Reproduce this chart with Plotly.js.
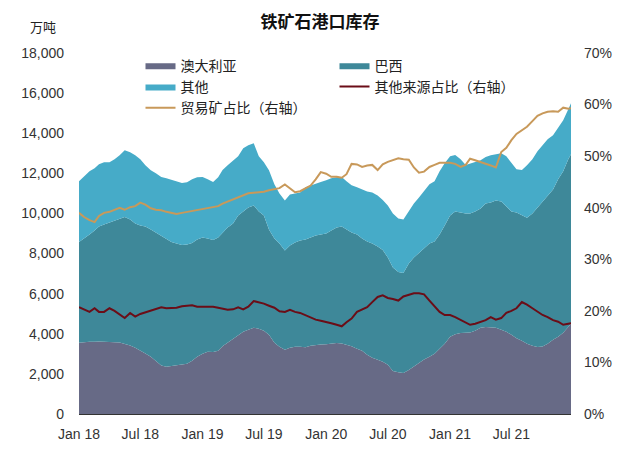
<!DOCTYPE html>
<html>
<head>
<meta charset="utf-8">
<script src="https://cdn.plot.ly/plotly-3.0.1.min.js"></script>
<style>html,body{margin:0;padding:0;background:#fff;}#chart{width:640px;height:459px;}</style>
</head>
<body>
<div id="chart"></div>
<script>
const dates = [
'2018-01-01','2018-01-16','2018-02-01','2018-02-16','2018-03-01','2018-03-16','2018-04-01','2018-04-16','2018-05-01','2018-05-16','2018-06-01','2018-06-16',
'2018-07-01','2018-07-16','2018-08-01','2018-08-16','2018-09-01','2018-09-16','2018-10-01','2018-10-16','2018-11-01','2018-11-16','2018-12-01','2018-12-16',
'2019-01-01','2019-01-16','2019-02-01','2019-02-16','2019-03-01','2019-03-16','2019-04-01','2019-04-16','2019-05-01','2019-05-16','2019-06-01','2019-06-16',
'2019-07-01','2019-07-16','2019-08-01','2019-08-16','2019-09-01','2019-09-16','2019-10-01','2019-10-16','2019-11-01','2019-11-16','2019-12-01','2019-12-16',
'2020-01-01','2020-01-16','2020-02-01','2020-02-16','2020-03-01','2020-03-16','2020-04-01','2020-04-16','2020-05-01','2020-05-16','2020-06-01','2020-06-16',
'2020-07-01','2020-07-16','2020-08-01','2020-08-16','2020-09-01','2020-09-16','2020-10-01','2020-10-16','2020-11-01','2020-11-16','2020-12-01','2020-12-16',
'2021-01-01','2021-01-16','2021-02-01','2021-02-16','2021-03-01','2021-03-16','2021-04-01','2021-04-16','2021-05-01','2021-05-16','2021-06-01','2021-06-16',
'2021-07-01','2021-07-16','2021-08-01','2021-08-16','2021-09-01','2021-09-16','2021-10-01','2021-10-16','2021-11-01','2021-11-16','2021-12-01','2021-12-16',
'2021-12-24'];

// 万吨
const australia = [
3550,3580,3600,3600,3620,3600,3600,3580,3560,3500,3420,3300,3180,3020,2850,2650,2420,2360,2400,2440,2460,2500,2650,2850,
3000,3100,3090,3150,3380,3550,3750,3900,4100,4200,4300,4250,4150,3950,3550,3350,3200,3300,3350,3350,3330,3400,3440,3460,
3480,3520,3540,3520,3450,3380,3250,3150,2950,2800,2700,2600,2450,2150,2080,2040,2200,2380,2580,2720,2850,3000,3250,3500,
3850,3980,4040,4050,4060,4150,4300,4340,4330,4300,4200,4100,3950,3780,3650,3500,3400,3340,3360,3500,3700,3850,4050,4350,
4500];
const brazil = [
5030,5170,5350,5550,5730,5850,5950,6070,6190,6320,6280,6200,6220,6330,6350,6400,6480,6390,6180,6060,5970,5950,5880,5850,
5800,5650,5590,5650,5670,5750,5750,6000,6000,6100,6100,5850,5750,5250,5200,5150,4950,5100,5200,5300,5370,5400,5460,5490,
5520,5630,5760,5830,5750,5670,5700,5600,5650,5700,5650,5580,5350,5150,5000,4990,5300,5420,5450,5530,5650,5600,5700,5900,
6050,6120,6010,5950,5940,5950,5950,6160,6220,6350,6400,6250,6150,6270,6250,6280,6600,6960,7190,7400,7500,7850,8050,8350,
8450];
const other = [
3020,3100,3150,3100,3100,3100,3000,3050,3150,3330,3350,3400,3300,3050,2950,2950,2920,3000,3090,3100,3090,3100,3170,3100,
3020,2950,2890,3000,3120,3100,3150,2950,3150,3100,3100,2750,2650,2950,2700,2500,2500,2550,2450,2400,2600,2600,2600,2620,
2650,2600,2500,2470,2400,2350,2350,2450,2500,2550,2550,2490,2600,2700,2670,2670,2650,2700,2770,2850,2950,3000,3150,3100,
2950,2810,2650,2420,2500,2460,2400,2310,2350,2300,2400,2500,2400,2150,2270,2620,2700,2800,2850,2800,2700,2550,2550,2500,
2550];
// % (右轴)
const otherShare = [
20.7,20.2,19.8,20.5,19.8,19.8,20.5,20.0,19.3,18.6,19.6,18.9,19.4,19.7,20.0,20.3,20.7,20.5,20.6,20.6,20.9,21.0,21.1,20.8,
20.8,20.9,20.8,20.6,20.4,20.2,20.3,20.7,20.3,20.8,21.9,21.7,21.4,21.0,20.6,19.9,19.8,20.2,19.8,19.6,19.2,18.8,18.3,18.1,
17.9,17.6,17.3,17.0,17.8,18.5,19.8,20.2,20.7,21.7,22.7,23.0,22.5,22.3,22.0,22.8,23.1,23.4,23.4,23.2,22.0,21.0,19.8,19.2,
19.2,18.8,18.2,17.8,17.3,17.5,17.8,18.2,18.8,18.3,18.6,19.6,20.0,20.5,21.7,21.2,20.5,19.8,19.2,18.8,18.2,17.9,17.3,17.5,
17.6];
const tradeShare = [
39.0,38.2,37.6,37.2,38.4,39.0,39.2,39.6,40.0,39.6,40.1,40.3,41.0,40.6,39.9,39.6,39.5,39.2,39.0,38.8,39.0,39.2,39.4,39.6,
39.7,40.0,40.1,40.3,40.8,41.2,41.5,42.0,42.3,42.8,42.9,43.0,43.1,43.4,43.6,43.8,44.5,43.8,43.0,43.2,43.8,44.3,45.5,46.9,
46.6,46.0,46.0,45.8,46.5,48.5,48.4,47.9,48.2,48.3,47.3,48.4,48.9,49.3,49.6,49.4,49.3,47.8,46.8,47.0,47.9,48.3,48.7,48.7,
48.7,48.5,47.9,48.3,49.5,49.2,48.9,48.6,48.2,47.8,50.8,51.6,53.1,54.3,55.0,55.7,56.8,57.8,58.3,58.6,58.7,58.6,59.4,59.2,
59.3];

const FONT = 'Liberation Sans, Arial, Noto Sans CJK SC, sans-serif';

const traces = [
  {x: dates, y: australia, name: '澳大利亚', type: 'scatter', mode: 'lines', stackgroup: 'inv',
   line: {width: 0}, fillcolor: '#676a86', hoverinfo: 'skip'},
  {x: dates, y: brazil, name: '巴西', type: 'scatter', mode: 'lines', stackgroup: 'inv',
   line: {width: 0}, fillcolor: '#3e8899', hoverinfo: 'skip'},
  {x: dates, y: other, name: '其他', type: 'scatter', mode: 'lines', stackgroup: 'inv',
   line: {width: 0}, fillcolor: '#46abc8', hoverinfo: 'skip'},
  {x: dates, y: otherShare, name: '其他来源占比（右轴）', type: 'scatter', mode: 'lines', yaxis: 'y2',
   line: {color: '#6b0d17', width: 2}},
  {x: dates, y: tradeShare, name: '贸易矿占比（右轴）', type: 'scatter', mode: 'lines', yaxis: 'y2',
   line: {color: '#c8995a', width: 2}}
];

const layout = {
  width: 640, height: 459,
  margin: {l: 79, r: 69, t: 53, b: 45},
  paper_bgcolor: '#fff', plot_bgcolor: '#fff',
  font: {family: FONT, size: 14, color: '#404040'},
  showlegend: true,
  title: {text: '<b>铁矿石港口库存</b>', font: {size: 17, color: '#111', family: FONT},
          x: 0.5, xanchor: 'center', y: 0.952, yanchor: 'middle'},
  legend: {orientation: 'h', x: 0.125, xanchor: 'left', y: 1.009, yanchor: 'top',
           traceorder: 'normal', entrywidth: 149, entrywidthmode: 'pixels',
           font: {size: 14, color: '#222', family: FONT}, bgcolor: 'rgba(0,0,0,0)',
           tracegroupgap: 0, itemclick: false},
  xaxis: {type: 'date', range: ['2018-01-01', '2021-12-24'], tick0: '2018-01-01', dtick: 'M6',
          tickformat: '%b %y', showgrid: false, zeroline: false, showline: true,
          linecolor: '#333', linewidth: 1, ticks: '', ticklabelstandoff: 7,
          tickfont: {size: 14, color: '#333'}},
  yaxis: {range: [0, 18000], dtick: 2000, tickformat: ',d', showgrid: false, zeroline: false,
          showline: false, ticks: '', ticklabelstandoff: 14, tickfont: {size: 14, color: '#333'}},
  yaxis2: {range: [0, 70], dtick: 10, ticksuffix: '%', overlaying: 'y', side: 'right',
           showgrid: false, zeroline: false, showline: false, ticks: '', ticklabelstandoff: 12,
           tickfont: {size: 14, color: '#333'}},
  annotations: [
    {text: '万吨', xref: 'paper', yref: 'paper', x: -0.043, y: 1.072, xanchor: 'right', yanchor: 'middle',
     showarrow: false, font: {size: 13, color: '#222', family: FONT}}
  ]
};

Plotly.newPlot('chart', traces, layout, {displayModeBar: false, staticPlot: true});
</script>
</body>
</html>
